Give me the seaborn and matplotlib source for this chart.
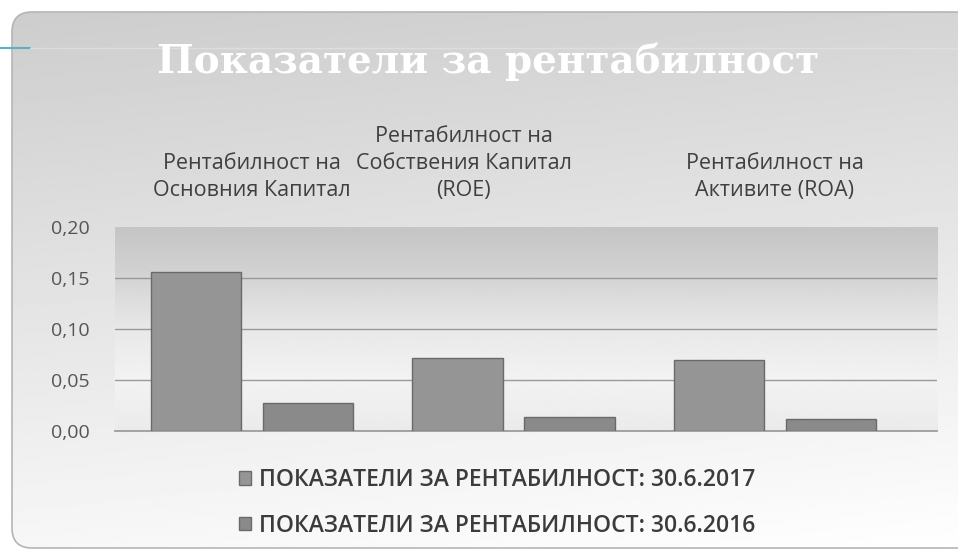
import numpy as np
import pandas as pd
import matplotlib.pyplot as plt
import matplotlib.transforms as mtransforms
from matplotlib.patches import FancyBboxPatch
import seaborn as sns

# Data
categories = ['Рентабилност на\nОсновния Капитал',
              'Рентабилност на\nСобствения Капитал\n(ROE)',
              'Рентабилност на\nАктивите (ROA)']
series = ['ПОКАЗАТЕЛИ ЗА РЕНТАБИЛНОСТ: 30.6.2017',
          'ПОКАЗАТЕЛИ ЗА РЕНТАБИЛНОСТ: 30.6.2016']
vals_2017 = [0.156, 0.072, 0.070]
vals_2016 = [0.027, 0.014, 0.012]
yticks = [0.00, 0.05, 0.10, 0.15, 0.20]
title = 'Показатели за рентабилност'

df = pd.DataFrame({
    'Показател': categories * 2,
    'Период': [series[0]] * 3 + [series[1]] * 3,
    'Стойност': vals_2017 + vals_2016,
})

sns.set_theme(style='white')
plt.rcParams['font.family'] = ['Open Sans', 'DejaVu Sans']

fig = plt.figure(figsize=(9.58, 5.56), dpi=100)
fig.patch.set_facecolor('white')

# background panel with rounded corners and a grey gradient
bg = fig.add_axes([0, 0, 1, 1], zorder=-10)
bg.set_xlim(0, 958)
bg.set_ylim(556, 0)
bg.axis('off')
panel = FancyBboxPatch((12, 12), 980, 536, boxstyle='round,pad=0,rounding_size=20',
                       fc='none', ec='#b5b5b5', lw=1.2)
bg.add_patch(panel)
yy, xx = np.mgrid[0:1:200j, 0:1:200j]
shade = 0.80 + 0.17 * yy + 0.03 * xx
im = bg.imshow(shade, cmap='gray', vmin=0, vmax=1, extent=[0, 958, 556, 0],
               aspect='auto', zorder=0)
im.set_clip_path(panel)
bg.plot([0, 30], [48, 48], color='#5ab0c4', lw=1.5, zorder=2)
bg.plot([30, 958], [48, 48], color='#dde6e8', lw=1.0, alpha=0.7, zorder=2)

# plot area
ax = fig.add_axes([115 / 958, 1 - 431 / 556, (937 - 115) / 958, 204 / 556])
ax.patch.set_alpha(0)
wall = np.interp(np.linspace(0, 1, 200), [0, 0.22, 0.5, 0.75, 1.0],
                 [0.77, 0.82, 0.91, 0.95, 0.92])
ax.imshow(wall[:, None], cmap='gray', vmin=0, vmax=1, extent=[0, 1, 0, 1],
          transform=ax.transAxes, aspect='auto', zorder=0)

sns.barplot(df, x='Показател', y='Стойност', hue='Период',
            palette=['#959595', '#8a8a8a'], width=0.857, gap=0.19,
            edgecolor='#6a6a6a', linewidth=1, saturation=1, ax=ax, zorder=3)

ax.set_xlim(-0.524, 2.62)
ax.set_ylim(0, 0.20)
ax.set_axisbelow(True)
ax.yaxis.grid(True, color='#9a9a9a', lw=1)
ax.set_yticks(yticks)
ax.set_yticklabels([f'{v:.2f}'.replace('.', ',') for v in yticks])
ax.get_ygridlines()[-1].set_visible(False)
ax.tick_params(axis='y', length=0, pad=18, labelsize=14, labelcolor='#555555')
ax.xaxis.tick_top()
ax.tick_params(axis='x', length=0, pad=19, labelsize=15.5, labelcolor='#404040')
for lbl in ax.get_xticklabels():
    lbl.set_linespacing(1.35)
ax.get_xticklabels()[1].set_transform(
    ax.get_xticklabels()[1].get_transform()
    + mtransforms.ScaledTranslation(-0.5, 0, fig.dpi_scale_trans))
ax.set_xlabel('')
ax.set_ylabel('')
for s in ['left', 'right', 'top']:
    ax.spines[s].set_visible(False)
ax.spines['bottom'].set_color('#9a9a9a')

handles, labels = ax.get_legend_handles_labels()
ax.get_legend().remove()
leg = fig.legend(handles, labels, loc='center', bbox_to_anchor=(497 / 958, 1 - 503 / 556),
                 ncol=1, frameon=False, fontsize=16.5, labelspacing=0.95,
                 handlelength=0.5, handleheight=0.5, handletextpad=0.35)
for t in leg.get_texts():
    t.set_color('#3b3b3b')
    t.set_fontweight('semibold')

fig.text(488 / 958, 1 - 73 / 556, title, ha='center', va='baseline', color='white',
         fontsize=28, fontweight='bold', family='DejaVu Serif')

fig.savefig('out.png', dpi=100)
